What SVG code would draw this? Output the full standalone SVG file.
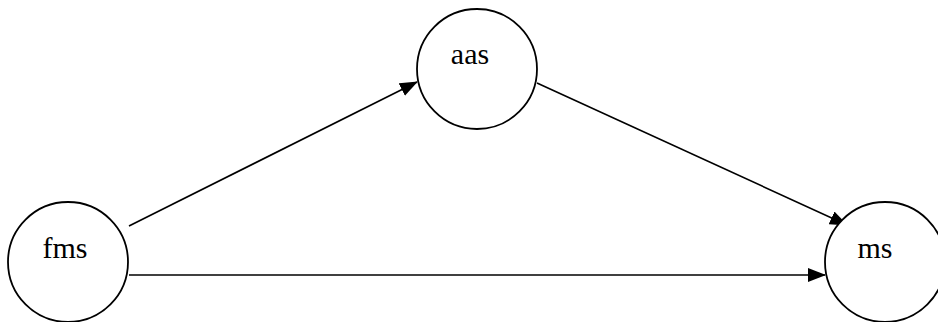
<svg xmlns="http://www.w3.org/2000/svg" width="938" height="322" viewBox="0 0 938 322">
<style>
.node{fill:#fff;stroke:#000;stroke-width:1.8}
.lbl{font-family:'Liberation Serif','Times New Roman',Times,serif;font-size:30px;fill:#000;text-anchor:middle}
.edge{stroke:#000;stroke-width:1.6;fill:none;marker-end:url(#arr)}
</style>
<defs>
<marker id="arr" markerWidth="18" markerHeight="14" refX="17" refY="7" orient="auto" markerUnits="userSpaceOnUse">
<path d="M0,0 L18,7 L0,14 Z" fill="#000"/>
</marker>
</defs>
<g id="connectors">
<line class="edge" x1="129" y1="226" x2="417" y2="82"/>
<line class="edge" x1="537" y1="83" x2="847" y2="225"/>
<line class="edge" x1="129" y1="275" x2="825" y2="275"/>
</g>
<g id="fms"><circle class="node" cx="68" cy="262" r="60"/><text class="lbl" x="65" y="258">fms</text></g>
<g id="aas"><circle class="node" cx="477" cy="69" r="60"/><text class="lbl" x="470" y="64">aas</text></g>
<g id="ms"><circle class="node" cx="885" cy="262" r="60"/><text class="lbl" x="875" y="258">ms</text></g>
</svg>
